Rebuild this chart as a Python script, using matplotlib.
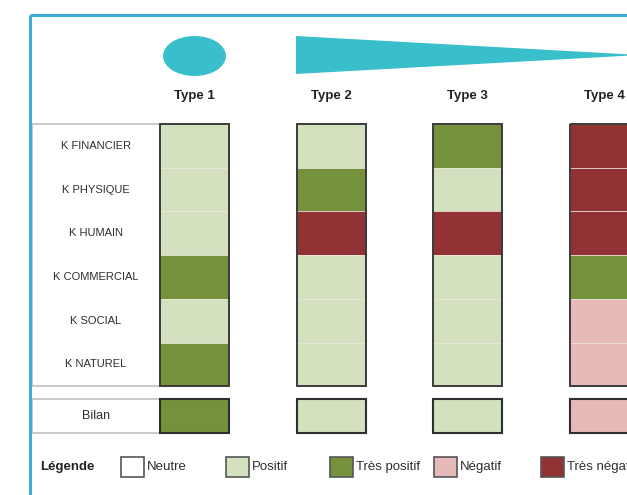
import matplotlib
matplotlib.use("Agg")
import matplotlib.pyplot as plt
from matplotlib.patches import Rectangle, Ellipse, Polygon

# ---- data ----
types = ["Type 1", "Type 2", "Type 3", "Type 4"]
rows = ["K FINANCIER", "K PHYSIQUE", "K HUMAIN", "K COMMERCIAL", "K SOCIAL", "K NATUREL"]
type1 = ["Positif", "Positif", "Positif", "Très positif", "Positif", "Très positif"]
type2 = ["Positif", "Très positif", "Très négatif", "Positif", "Positif", "Positif"]
type3 = ["Très positif", "Positif", "Très négatif", "Positif", "Positif", "Positif"]
type4 = ["Très négatif", "Très négatif", "Très négatif", "Très positif", "Négatif", "Négatif"]
bilan = ["Très positif", "Positif", "Positif", "Négatif"]
bilan_label = "Bilan"
legend_title = "Légende"
legend_items = ["Neutre", "Positif", "Très positif", "Négatif", "Très négatif"]

colors = {
    "Neutre": "#ffffff",
    "Positif": "#d4e1be",
    "Très positif": "#76913c",
    "Négatif": "#e8b9b9",
    "Très négatif": "#933234",
}

FONT = ["Liberation Sans", "DejaVu Sans"]

W, H = 627, 495
fig = plt.figure(figsize=(W / 100, H / 100), dpi=100)
ax = fig.add_axes([0, 0, 1, 1])
ax.set_xlim(0, W)
ax.set_ylim(H, 0)
ax.axis("off")

# frame
blue = "#3aaed6"
ax.plot([30, W + 5], [15, 15], color=blue, lw=2.2, solid_capstyle="butt")
ax.plot([30, 30], [15, H + 5], color=blue, lw=2.2, solid_capstyle="butt")

# layout
col_x0, col_dx, col_w = 160, 136.5, 69
top, row_h = 124, 43.7
label_x0 = 32
bil_y0, bil_h = 399, 34

# shapes at top
ax.add_patch(Ellipse((194.5, 56), 63, 40, color="#38bfcb", lw=0))
ax.add_patch(Polygon([(296, 36), (296, 74), (640, 55)], closed=True, color="#38bfcb", lw=0))

# label boxes
grey = "#c9c4c4"
ax.add_patch(Rectangle((label_x0, top), col_x0 - label_x0, row_h * len(rows),
                       fill=False, ec=grey, lw=1.3))
ax.add_patch(Rectangle((label_x0, bil_y0), col_x0 - label_x0, bil_h,
                       fill=False, ec=grey, lw=1.3))
for j, r in enumerate(rows):
    ax.text((label_x0 + col_x0) / 2, top + (j + 0.5) * row_h, r, ha="center", va="center",
            fontsize=8, color="#2e2e2e", family=FONT)
ax.text((label_x0 + col_x0) / 2, bil_y0 + bil_h / 2, bilan_label, ha="center", va="center",
        fontsize=9, color="#2e2e2e", family=FONT)

# columns
all_types = [type1, type2, type3, type4]
for i, (t, vals) in enumerate(zip(types, all_types)):
    x = col_x0 + i * col_dx
    ax.text(x + col_w / 2, 96, t, ha="center", va="center", fontsize=9.5,
            fontweight="bold", color="#222222", family=FONT)
    for j, v in enumerate(vals):
        ax.add_patch(Rectangle((x, top + j * row_h), col_w, row_h, fc=colors[v],
                               ec="#ece8dc", lw=0.5))
    ax.add_patch(Rectangle((x, top), col_w, row_h * len(vals), fill=False,
                           ec="#3a3a3a", lw=1.4))
    ax.add_patch(Rectangle((x, bil_y0), col_w, bil_h, fc=colors[bilan[i]],
                           ec="#2e2e2e", lw=1.5))

# legend
leg_y, leg_h, leg_w = 457, 20, 23
ax.text(40, leg_y + leg_h / 2, legend_title, ha="left", va="center", fontsize=9.5,
        fontweight="bold", color="#222222", family=FONT)
leg_x = [121, 226, 330, 434, 541]
for lx, item in zip(leg_x, legend_items):
    ax.add_patch(Rectangle((lx, leg_y), leg_w, leg_h, fc=colors[item], ec="#555555", lw=1.2))
    ax.text(lx + leg_w + 3, leg_y + leg_h / 2, item, ha="left", va="center", fontsize=9.5,
            color="#2e2e2e", family=FONT)

fig.savefig("out.png", dpi=100, facecolor="white")
